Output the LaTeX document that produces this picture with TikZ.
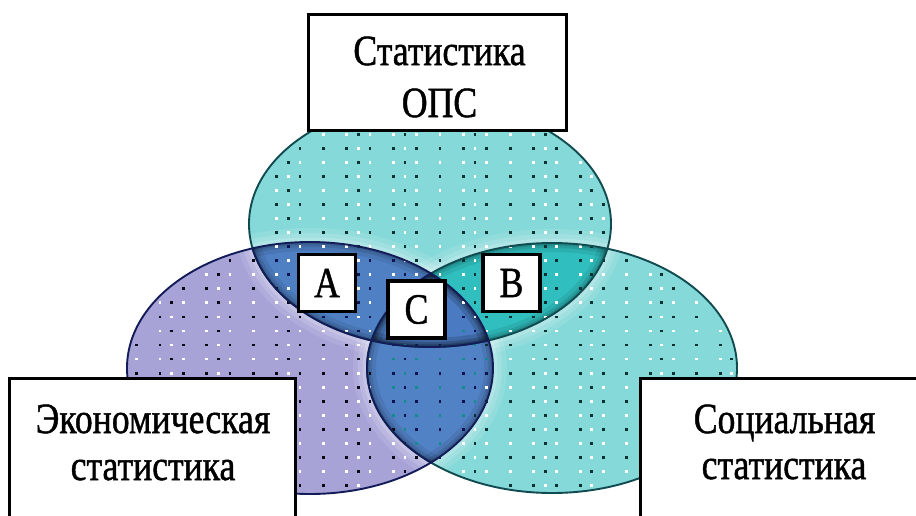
\documentclass[tikz,border=0pt]{standalone}
\usepackage{fontspec}
\setmainfont{Liberation Serif}
\newfontfamily\labelfont[FakeBold=1.2]{Liberation Serif}
\usepackage{graphicx}

% region colours
\definecolor{tealbase}{HTML}{86D9D9}
\definecolor{lilacbase}{HTML}{A7A3D7}
\definecolor{blueA}{HTML}{4F80C4}
\definecolor{tealB}{HTML}{30BEBE}
\definecolor{blueLR}{HTML}{5282C6}
\definecolor{blueC}{HTML}{4A7BC2}
% outline and dot colours
\definecolor{navyline}{HTML}{131B58}
\definecolor{tealline}{HTML}{0F4B50}
\definecolor{dotnavy}{HTML}{0C1450}
\definecolor{dotblack}{HTML}{0A0A14}
\definecolor{dotteal}{HTML}{0A3232}
\definecolor{dotcyan}{HTML}{148C8C}

\newcommand\sq[1]{\scalebox{0.83}[1]{#1}}

% the three sets
\def\ellT{(430,224) ellipse [x radius=181, y radius=123]}
\def\ellL{(310,368) ellipse [x radius=183, y radius=126]}
\def\ellR{(552,368) ellipse [x radius=185, y radius=125]}
\def\canvas{(0,0) rectangle (916,515)}

% soft light halo of set #1 on the part of set #2 that lies outside set #3
\newcommand\halo[3]{%
  \begin{scope}[even odd rule]
    \clip \canvas #1;
    \clip \canvas #3;
    \clip #2;
    \foreach \w/\o in {28/0.10,18/0.14,9/0.18}{\draw[white, opacity=\o, line width=\w pt] #1;}
  \end{scope}}
% dark rim of set #1 inside set #2
\newcommand\rim[2]{%
  \begin{scope}
    \clip #1; \clip #2;
    \foreach \w/\o in {18/0.08,10/0.10,5/0.12}{\draw[black, opacity=\o, line width=\w pt] #1;}
  \end{scope}}

\begin{document}
\begin{tikzpicture}[x=1pt,y=-1pt,
  txt/.style={font=\labelfont\fontsize{43}{50}\selectfont, inner sep=0pt},
  framebox/.style={draw=black, fill=white, line width=3.3pt, inner sep=0pt},
  letterbox/.style={framebox, minimum width=57pt, minimum height=57pt,
    font=\labelfont\fontsize{43}{50}\selectfont}]
\path[use as bounding box] \canvas;
\clip \canvas;

% base fills
\fill[lilacbase] \ellL;
\fill[tealbase] \ellT;
\fill[tealbase] \ellR;

% pairwise and triple overlaps
\begin{scope}\clip \ellT; \fill[blueA] \ellL; \end{scope}
\begin{scope}\clip \ellT; \fill[tealB] \ellR; \end{scope}
\begin{scope}\clip \ellL; \fill[blueLR] \ellR; \end{scope}
\begin{scope}\clip \ellT; \clip \ellL; \fill[blueC] \ellR; \end{scope}

% bevel: light halo in the single-set parts, dark rim inside the overlaps
\halo{\ellT}{\ellL}{\ellR}\halo{\ellT}{\ellR}{\ellL}
\halo{\ellL}{\ellT}{\ellR}\halo{\ellL}{\ellR}{\ellT}
\halo{\ellR}{\ellT}{\ellL}\halo{\ellR}{\ellL}{\ellT}
\rim{\ellT}{\ellL}\rim{\ellT}{\ellR}
\rim{\ellL}{\ellT}\rim{\ellL}{\ellR}
\rim{\ellR}{\ellT}\rim{\ellR}{\ellL}

% dotted texture, checkerboard of dark and light dots
\foreach \i in {-12,-10,-9,-8,-6,-5,-4,-2,0,1,2,4,6,7,8,10,11,12,14,16,17,18,20,22,23,24,26,27,28,30,32,33,34,36,38,39,40}{
  \foreach \j in {-4,...,25}{
    \pgfmathsetmacro\px{276.7+11.67*\i}
    \pgfmathsetmacro\py{148.3+14.05*\j}
    \pgfmathsetmacro\ta{(\px-430)/181}\pgfmathsetmacro\tb{(\py-224)/123}
    \pgfmathsetmacro\la{(\px-310)/183}\pgfmathsetmacro\lb{(\py-368)/126}
    \pgfmathsetmacro\ra{(\px-552)/185}\pgfmathsetmacro\rb{(\py-368)/125}
    \pgfmathtruncatemacro\inT{\ta*\ta+\tb*\tb<0.95}
    \pgfmathtruncatemacro\inL{\la*\la+\lb*\lb<0.95}
    \pgfmathtruncatemacro\inR{\ra*\ra+\rb*\rb<0.95}
    \pgfmathtruncatemacro\cat{4*\inL+2*\inT+\inR}
    \pgfmathtruncatemacro\parity{mod(\i+\j+100,2)}
    \ifcase\cat
      \def\dk{none}\def\lt{none}\or
      \def\dk{dotteal}\def\lt{white}\or
      \def\dk{dotteal}\def\lt{white}\or
      \def\dk{dotteal}\def\lt{white}\or
      \def\dk{dotblack}\def\lt{white}\or
      \def\dk{dotnavy}\def\lt{dotcyan}\or
      \def\dk{dotnavy}\def\lt{white}\or
      \def\dk{dotnavy}\def\lt{dotcyan}\fi
    \ifnum\cat>0
      \ifnum\parity=0 \def\col{\dk}\else\def\col{\lt}\fi
      \pgfmathsetmacro\qx{\px-1.4}\pgfmathsetmacro\qy{\py-1.4}
      \fill[\col] (\qx,\qy) rectangle ++(2.8,2.8);
    \fi
  }
}

% outlines: teal outside the lilac set, navy inside it
\draw[tealline, line width=1.9pt] \ellT;
\draw[tealline, line width=1.9pt] \ellR;
\begin{scope}\clip \ellL;
  \draw[navyline, line width=1.9pt] \ellT;
  \draw[navyline, line width=1.9pt] \ellR;
\end{scope}
\draw[navyline, line width=1.9pt] \ellL;

% overlap labels
\node[letterbox] (lblA) at (327,283) {\sq{A}};
\node[letterbox] (lblB) at (511.5,283) {\sq{B}};
\node[letterbox] (lblC) at (416.5,309.5) {\sq{C}};

% titled frames
\node[framebox, anchor=north west, minimum width=257.7pt, minimum height=115.7pt] (opsbox) at (307,13) {};
\node[framebox, anchor=north west, minimum width=285.7pt, minimum height=200pt] (econbox) at (8,377) {};
\node[framebox, anchor=north west, minimum width=300pt, minimum height=200pt] (socbox) at (639,377) {};

\node[txt, anchor=base] (opsA) at (439.5,65) {\sq{Статистика}};
\node[txt, anchor=base] (opsB) at (439.5,117) {\sq{ОПС}};
\node[txt, anchor=base] (econA) at (153,433) {\sq{Экономическая}};
\node[txt, anchor=base] (econB) at (153,480) {\sq{статистика}};
\node[txt, anchor=base] (socA) at (784.5,433) {\sq{Социальная}};
\node[txt, anchor=base] (socB) at (784,479) {\sq{статистика}};
\end{tikzpicture}
\end{document}
